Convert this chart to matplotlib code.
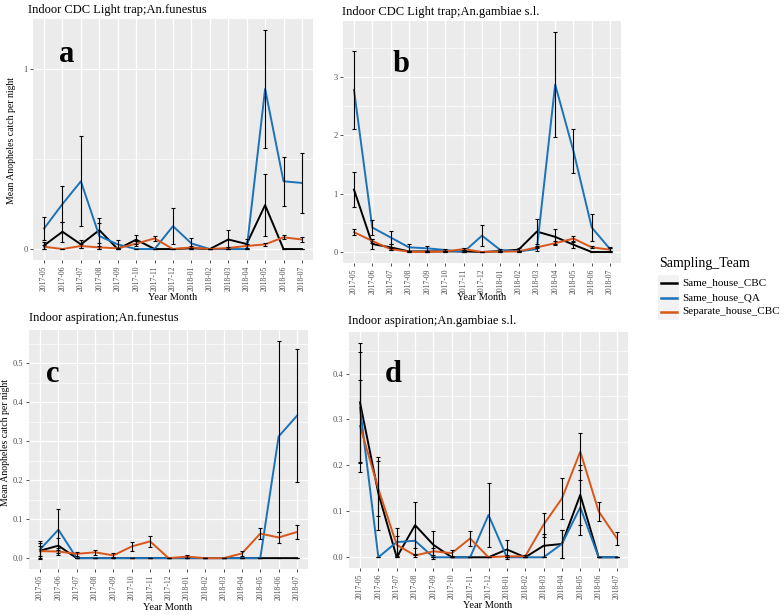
import numpy as np
import matplotlib
matplotlib.use("Agg")
import matplotlib.pyplot as plt
from matplotlib.lines import Line2D
from matplotlib.patches import Rectangle

plt.rcParams['font.family'] = ['Liberation Serif', 'DejaVu Serif']

months = ['2017-05', '2017-06', '2017-07', '2017-08', '2017-09', '2017-10', '2017-11',
          '2017-12', '2018-01', '2018-02', '2018-03', '2018-04', '2018-05', '2018-06', '2018-07']
teams = ['Same_house_CBC', 'Same_house_QA', 'Separate_house_CBC']
team_colors = ['#000000', '#1a72b8', '#d9561a']

# panel a: Indoor CDC Light trap; An.funestus
a_cbc = [0.02, 0.096, 0.026, 0.105, 0, 0.052, 0, 0, 0.004, 0, 0.053, 0.028, 0.244, 0, 0]
a_cbc_se = [0.02, 0.055, 0.022, 0.07, 0, 0.026, 0, 0, 0.004, 0, 0.053, 0.025, 0.17, 0, 0]
a_qa = [0.114, 0.25, 0.376, 0.072, 0.026, 0, 0, 0.127, 0.031, 0, 0, 0, 0.889, 0.376, 0.367]
a_qa_se = [0.065, 0.1, 0.25, 0.07, 0.026, 0, 0, 0.1, 0.03, 0, 0, 0, 0.327, 0.137, 0.165]
a_sep = [0.013, 0, 0.017, 0.009, 0.004, 0.03, 0.059, 0, 0.009, 0, 0.006, 0.017, 0.026, 0.065, 0.053]
a_sep_se = [0.01, 0, 0.01, 0.008, 0.004, 0.015, 0.013, 0, 0.006, 0, 0.005, 0.01, 0.01, 0.012, 0.012]

# panel b: Indoor CDC Light trap; An.gambiae s.l.
b_cbc = [1.07, 0.137, 0.08, 0.01, 0.01, 0.01, 0.01, 0, 0.015, 0.04, 0.35, 0.26, 0.125, 0, 0]
b_cbc_se = [0.3, 0.08, 0.05, 0.01, 0.01, 0.01, 0.01, 0, 0.01, 0.02, 0.21, 0.13, 0.05, 0, 0]
b_qa = [2.78, 0.42, 0.25, 0.08, 0.063, 0.034, 0, 0.28, 0.034, 0.01, 0.05, 2.87, 1.73, 0.42, 0.05]
b_qa_se = [0.67, 0.13, 0.11, 0.06, 0.04, 0.02, 0, 0.18, 0.02, 0.01, 0.03, 0.9, 0.38, 0.23, 0.03]
b_sep = [0.34, 0.19, 0.05, 0.005, 0, 0.01, 0.05, 0, 0.005, 0.01, 0.08, 0.15, 0.23, 0.08, 0.04]
b_sep_se = [0.05, 0.03, 0.02, 0.005, 0, 0.01, 0.02, 0, 0.005, 0.01, 0.02, 0.03, 0.04, 0.02, 0.02]

# panel c: Indoor aspiration; An.funestus
c_cbc = [0.019, 0.032, 0, 0, 0, 0, 0, 0, 0, 0, 0, 0, 0, 0, 0]
c_cbc_se = [0.02, 0.02, 0, 0, 0, 0, 0, 0, 0, 0, 0, 0, 0, 0, 0]
c_qa = [0.022, 0.073, 0, 0, 0, 0, 0, 0, 0, 0, 0, 0, 0, 0.312, 0.365]
c_qa_se = [0.022, 0.053, 0, 0, 0, 0, 0, 0, 0, 0, 0, 0, 0, 0.245, 0.17]
c_sep = [0.018, 0.017, 0.011, 0.015, 0.007, 0.03, 0.043, 0, 0.004, 0, 0, 0.012, 0.063, 0.053, 0.067]
c_sep_se = [0.012, 0.009, 0.006, 0.007, 0.005, 0.011, 0.014, 0, 0.004, 0, 0, 0.007, 0.013, 0.015, 0.017]

# panel d: Indoor aspiration; An.gambiae s.l.
d_cbc = [0.337, 0.139, 0, 0.07, 0.027, 0, 0, 0, 0.017, 0, 0.025, 0.029, 0.136, 0, 0]
d_cbc_se = [0.13, 0.08, 0, 0.05, 0.03, 0, 0, 0, 0.02, 0, 0.025, 0.03, 0.065, 0, 0]
d_qa = [0.326, 0, 0.033, 0.036, 0, 0, 0, 0.092, 0, 0, 0, 0.029, 0.109, 0, 0]
d_qa_se = [0.12, 0, 0.03, 0.03, 0, 0, 0, 0.07, 0, 0, 0, 0.03, 0.06, 0, 0]
d_sep = [0.286, 0.149, 0.027, 0.004, 0.013, 0.009, 0.041, 0, 0.002, 0.002, 0.071, 0.128, 0.23, 0.1, 0.041]
d_sep_se = [0.1, 0.06, 0.02, 0.004, 0.008, 0.006, 0.016, 0, 0.002, 0.002, 0.026, 0.045, 0.04, 0.02, 0.014]

grey_bg = '#EBEBEB'
tick_col = '#4D4D4D'


def draw_panel(ax, series, major, minor, labels):
    x = np.arange(len(months))
    ax.set_facecolor(grey_bg)
    for s in ax.spines.values():
        s.set_visible(False)
    tops = []
    for (m, se), col in zip(series, team_colors):
        ax.plot(x, m, color=col, lw=1.4, zorder=3)
        tops.append(np.array(m) + np.array(se))
    for m, se in series:
        ax.errorbar(x, m, yerr=se, fmt='none', ecolor='black', elinewidth=0.8,
                    capsize=1.2, capthick=0.8, zorder=4)
    hi = max(t.max() for t in tops)
    pad = hi * 0.05
    ax.set_ylim(-pad, hi + pad)
    ax.set_xlim(-0.6, len(months) - 0.4)
    ax.set_xticks(x)
    ax.set_xticklabels(months, rotation=90, fontsize=5.5, color=tick_col)
    ax.set_yticks(major)
    ax.set_yticklabels(labels, fontsize=6, color=tick_col)
    ax.set_yticks(minor, minor=True)
    ax.tick_params(axis='both', which='major', length=2.5, width=0.6, color='#333333', pad=1.5)
    ax.tick_params(axis='y', which='minor', length=0)
    ax.grid(True, which='major', color='white', lw=0.9, zorder=0)
    ax.grid(True, which='minor', axis='y', color='white', lw=0.45, zorder=0)
    ax.set_axisbelow(True)


fig = plt.figure(figsize=(7.84, 6.15), dpi=100)
W, H = 784, 615


def box(l, t, r, b):
    return [l / W, 1 - b / H, (r - l) / W, (b - t) / H]


ax_a = fig.add_axes(box(33, 19, 313, 260))
ax_b = fig.add_axes(box(343, 21, 621, 263))
ax_c = fig.add_axes(box(29, 330, 308, 569))
ax_d = fig.add_axes(box(349, 332, 628, 568))

draw_panel(ax_a, [(a_cbc, a_cbc_se), (a_qa, a_qa_se), (a_sep, a_sep_se)],
           [0, 1], [0.5], ['0', '1'])
draw_panel(ax_b, [(b_cbc, b_cbc_se), (b_qa, b_qa_se), (b_sep, b_sep_se)],
           [0, 1, 2, 3], [0.5, 1.5, 2.5, 3.5], ['0', '1', '2', '3'])
draw_panel(ax_c, [(c_cbc, c_cbc_se), (c_qa, c_qa_se), (c_sep, c_sep_se)],
           [0, 0.1, 0.2, 0.3, 0.4, 0.5], [0.05, 0.15, 0.25, 0.35, 0.45, 0.55],
           ['0.0', '0.1', '0.2', '0.3', '0.4', '0.5'])
draw_panel(ax_d, [(d_cbc, d_cbc_se), (d_qa, d_qa_se), (d_sep, d_sep_se)],
           [0, 0.1, 0.2, 0.3, 0.4], [0.05, 0.15, 0.25, 0.35, 0.45],
           ['0.0', '0.1', '0.2', '0.3', '0.4'])


# titles, axis labels and panel letters (pixel placement)
def ftext(px, py, s, **kw):
    fig.text(px / W, 1 - py / H, s, **kw)


ftext(28, 10, 'Indoor CDC Light trap;An.funestus', fontsize=9, va='center')
ftext(342, 12, 'Indoor CDC Light trap;An.gambiae s.l.', fontsize=9, va='center')
ftext(29, 318, 'Indoor aspiration;An.funestus', fontsize=9, va='center')
ftext(348, 321, 'Indoor aspiration;An.gambiae s.l.', fontsize=9, va='center')

ftext(173, 297, 'Year Month', fontsize=7.5, ha='center', va='center')
ftext(482, 297, 'Year Month', fontsize=7.5, ha='center', va='center')
ftext(168, 608, 'Year Month', fontsize=7.5, ha='center', va='center')
ftext(488, 605, 'Year Month', fontsize=7.5, ha='center', va='center')

ftext(12, 140, 'Mean Anopheles catch per night', fontsize=7, rotation=90, ha='center', va='center')
ftext(6, 443, 'Mean Anopheles catch per night', fontsize=7, rotation=90, ha='center', va='center')

letter_kw = dict(fontsize=22, fontweight='bold', ha='center', va='center')
ftext(67, 55, 'a', **letter_kw)
ftext(401, 64, 'b', **letter_kw)
ftext(53, 375, 'c', **letter_kw)
ftext(393, 374, 'd', **letter_kw)

# legend, drawn by hand to keep ggplot-like spacing
ftext(659, 263, 'Sampling_Team', fontsize=10, va='center')
fig.patches.append(Rectangle((658 / W, 1 - 320 / H), 21 / W, 45 / H,
                             transform=fig.transFigure, facecolor='#F2F2F2',
                             edgecolor='none'))
key_y = [283, 298, 312]
for ky, col, name in zip(key_y, team_colors, teams):
    fig.lines.append(Line2D([661 / W, 677 / W], [1 - ky / H, 1 - ky / H],
                            transform=fig.transFigure, color=col, lw=1.8))
    ftext(682, ky, name, fontsize=8, va='center')

fig.savefig('out.png', dpi=100)
